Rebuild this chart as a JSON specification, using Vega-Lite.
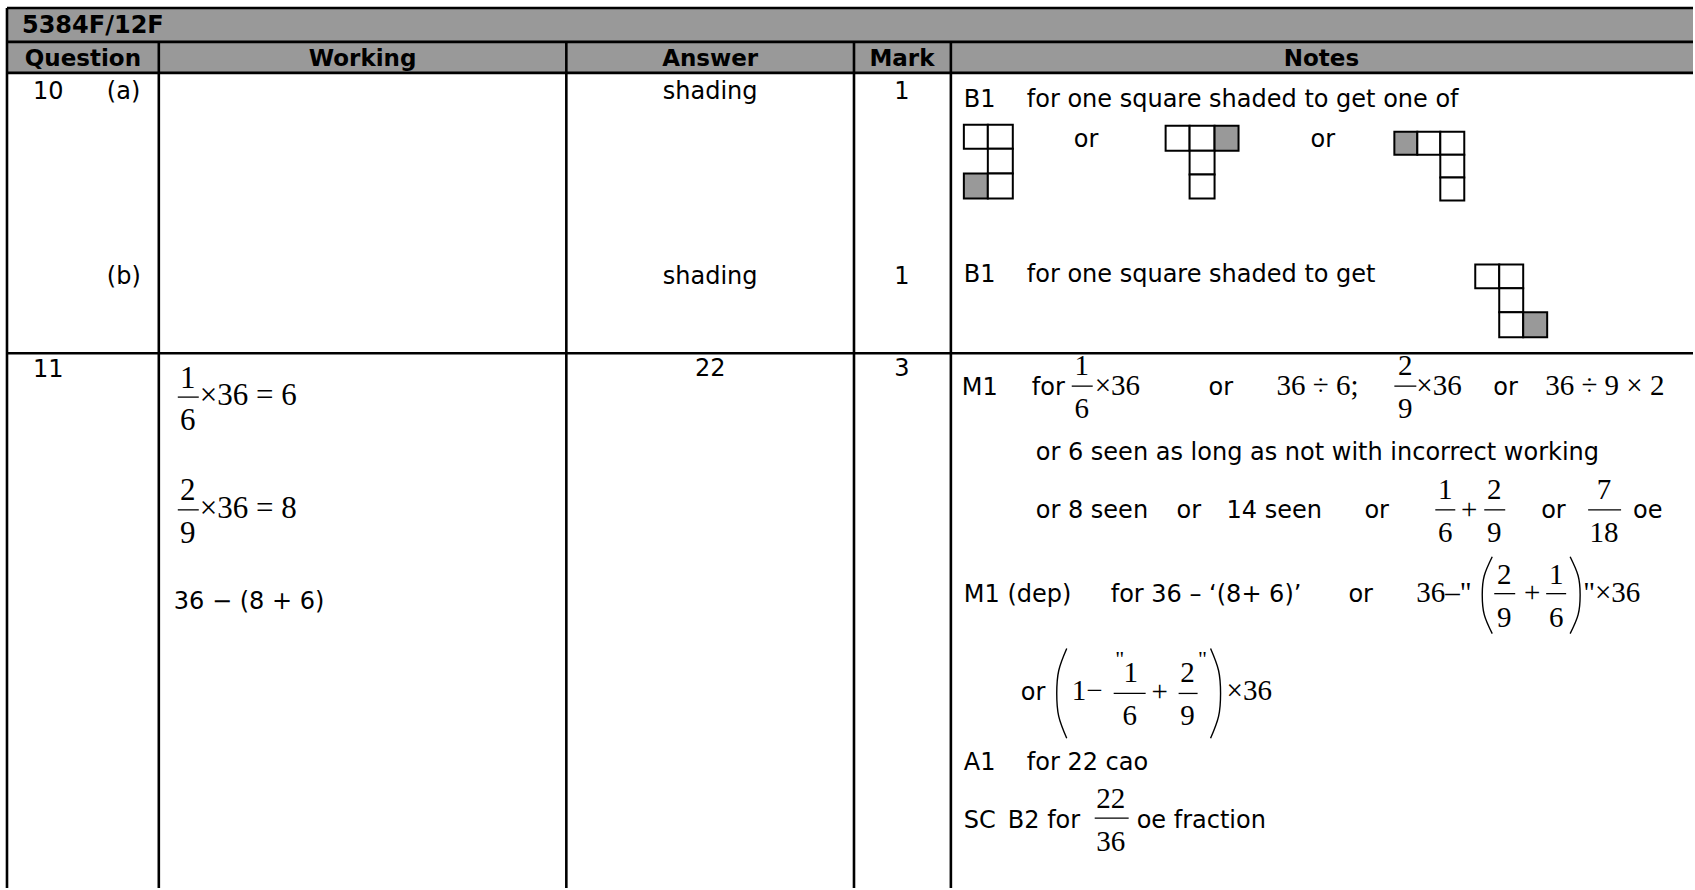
{
  "$schema": "https://vega.github.io/schema/vega-lite/v6.json",
  "width": 1695,
  "height": 890,
  "autosize": {"type": "fit", "contains": "padding"},
  "padding": 0,
  "background": "white",
  "config": {"view": {"stroke": null}},
  "datasets": {
    "fills": [{"x": 7, "x2": 1695, "y": 8, "y2": 73}],
    "grid": [
      {"x": 7, "x2": 1695, "y": 8, "y2": 8},
      {"x": 7, "x2": 1695, "y": 42, "y2": 42},
      {"x": 7, "x2": 1695, "y": 73, "y2": 73},
      {"x": 7, "x2": 1695, "y": 354, "y2": 354},
      {"x": 7, "x2": 7, "y": 8, "y2": 890},
      {"x": 159, "x2": 159, "y": 42, "y2": 890},
      {"x": 567, "x2": 567, "y": 42, "y2": 890},
      {"x": 855, "x2": 855, "y": 42, "y2": 890},
      {"x": 952, "x2": 952, "y": 42, "y2": 890}
    ],
    "squares": [
      {"x": 965, "x2": 989, "y": 125, "y2": 149, "s": false},
      {"x": 989, "x2": 1014, "y": 125, "y2": 149, "s": false},
      {"x": 989, "x2": 1014, "y": 149, "y2": 174, "s": false},
      {"x": 965, "x2": 989, "y": 174, "y2": 199, "s": true},
      {"x": 989, "x2": 1014, "y": 174, "y2": 199, "s": false},
      {"x": 1167, "x2": 1191, "y": 126, "y2": 151, "s": false},
      {"x": 1191, "x2": 1216, "y": 126, "y2": 151, "s": false},
      {"x": 1216, "x2": 1240, "y": 126, "y2": 151, "s": true},
      {"x": 1191, "x2": 1216, "y": 151, "y2": 175, "s": false},
      {"x": 1191, "x2": 1216, "y": 175, "y2": 199, "s": false},
      {"x": 1396, "x2": 1419, "y": 132, "y2": 155, "s": true},
      {"x": 1419, "x2": 1442, "y": 132, "y2": 155, "s": false},
      {"x": 1442, "x2": 1466, "y": 132, "y2": 155, "s": false},
      {"x": 1442, "x2": 1466, "y": 155, "y2": 178, "s": false},
      {"x": 1442, "x2": 1466, "y": 178, "y2": 201, "s": false},
      {"x": 1477, "x2": 1501, "y": 265, "y2": 289, "s": false},
      {"x": 1501, "x2": 1525, "y": 265, "y2": 289, "s": false},
      {"x": 1501, "x2": 1525, "y": 289, "y2": 313, "s": false},
      {"x": 1501, "x2": 1525, "y": 313, "y2": 338, "s": false},
      {"x": 1525, "x2": 1549, "y": 313, "y2": 338, "s": true}
    ],
    "bars": [
      {"x": 178, "x2": 199, "y": 398, "y2": 398},
      {"x": 178, "x2": 199, "y": 511, "y2": 511},
      {"x": 1073, "x2": 1094, "y": 387, "y2": 387},
      {"x": 1396, "x2": 1418, "y": 387, "y2": 387},
      {"x": 1437, "x2": 1457, "y": 511, "y2": 511},
      {"x": 1486, "x2": 1507, "y": 511, "y2": 511},
      {"x": 1590, "x2": 1623, "y": 511, "y2": 511},
      {"x": 1496, "x2": 1517, "y": 595, "y2": 595},
      {"x": 1548, "x2": 1568, "y": 595, "y2": 595},
      {"x": 1115, "x2": 1147, "y": 695, "y2": 695},
      {"x": 1180, "x2": 1199, "y": 695, "y2": 695},
      {"x": 1096, "x2": 1130, "y": 820, "y2": 820}
    ],
    "parens": [
      {"id": "a", "o": 1, "x": 1494, "y": 558},
      {"id": "a", "o": 2, "x": 1486, "y": 577},
      {"id": "a", "o": 3, "x": 1484, "y": 596},
      {"id": "a", "o": 4, "x": 1486, "y": 616},
      {"id": "a", "o": 5, "x": 1494, "y": 635},
      {"id": "b", "o": 1, "x": 1572, "y": 558},
      {"id": "b", "o": 2, "x": 1580, "y": 577},
      {"id": "b", "o": 3, "x": 1582, "y": 596},
      {"id": "b", "o": 4, "x": 1580, "y": 616},
      {"id": "b", "o": 5, "x": 1572, "y": 635},
      {"id": "c", "o": 1, "x": 1068, "y": 650},
      {"id": "c", "o": 2, "x": 1060, "y": 672},
      {"id": "c", "o": 3, "x": 1058, "y": 695},
      {"id": "c", "o": 4, "x": 1060, "y": 718},
      {"id": "c", "o": 5, "x": 1068, "y": 740},
      {"id": "d", "o": 1, "x": 1212, "y": 650},
      {"id": "d", "o": 2, "x": 1220, "y": 672},
      {"id": "d", "o": 3, "x": 1222, "y": 695},
      {"id": "d", "o": 4, "x": 1220, "y": 718},
      {"id": "d", "o": 5, "x": 1212, "y": 740}
    ],
    "texts": [
      {"t": "5384F/12F", "x": 22, "y": 33, "k": "title"},
      {"t": "Question", "x": 83, "y": 66, "k": "head"},
      {"t": "Working", "x": 363, "y": 66, "k": "head"},
      {"t": "Answer", "x": 711, "y": 66, "k": "head"},
      {"t": "Mark", "x": 903, "y": 66, "k": "head"},
      {"t": "Notes", "x": 1323, "y": 66, "k": "head"},
      {"t": "10", "x": 33, "y": 99, "k": "sans"},
      {"t": "(a)", "x": 107, "y": 99, "k": "sans"},
      {"t": "(b)", "x": 107, "y": 285, "k": "sans"},
      {"t": "11", "x": 33, "y": 378, "k": "sans"},
      {"t": "B1", "x": 965, "y": 107, "k": "sans"},
      {"t": "for one square shaded to get one of", "x": 1028, "y": 107, "k": "sans"},
      {"t": "or", "x": 1075, "y": 147, "k": "sans"},
      {"t": "or", "x": 1312, "y": 147, "k": "sans"},
      {"t": "B1", "x": 965, "y": 283, "k": "sans"},
      {"t": "for one square shaded to get", "x": 1028, "y": 283, "k": "sans"},
      {"t": "36 − (8 + 6)", "x": 174, "y": 610, "k": "sans"},
      {"t": "M1", "x": 963, "y": 396, "k": "sans"},
      {"t": "for", "x": 1033, "y": 396, "k": "sans"},
      {"t": "or", "x": 1210, "y": 396, "k": "sans"},
      {"t": "or", "x": 1495, "y": 396, "k": "sans"},
      {"t": "or 6 seen as long as not with incorrect working", "x": 1037, "y": 461, "k": "sans"},
      {"t": "or 8 seen", "x": 1037, "y": 519, "k": "sans"},
      {"t": "or", "x": 1178, "y": 519, "k": "sans"},
      {"t": "14 seen", "x": 1228, "y": 519, "k": "sans"},
      {"t": "or", "x": 1366, "y": 519, "k": "sans"},
      {"t": "or", "x": 1543, "y": 519, "k": "sans"},
      {"t": "oe", "x": 1635, "y": 519, "k": "sans"},
      {"t": "M1 (dep)", "x": 965, "y": 603, "k": "sans"},
      {"t": "for 36 – ‘(8+ 6)’", "x": 1112, "y": 603, "k": "sans"},
      {"t": "or", "x": 1350, "y": 603, "k": "sans"},
      {"t": "or", "x": 1022, "y": 702, "k": "sans"},
      {"t": "A1", "x": 965, "y": 772, "k": "sans"},
      {"t": "for 22 cao", "x": 1028, "y": 772, "k": "sans"},
      {"t": "SC", "x": 965, "y": 830, "k": "sans"},
      {"t": "B2 for", "x": 1009, "y": 830, "k": "sans"},
      {"t": "oe fraction", "x": 1138, "y": 830, "k": "sans"},
      {"t": "shading", "x": 711, "y": 99, "k": "sansc"},
      {"t": "shading", "x": 711, "y": 285, "k": "sansc"},
      {"t": "1", "x": 903, "y": 99, "k": "sansc"},
      {"t": "1", "x": 903, "y": 285, "k": "sansc"},
      {"t": "22", "x": 711, "y": 377, "k": "sansc"},
      {"t": "3", "x": 903, "y": 377, "k": "sansc"},
      {"t": "×36 = 6", "x": 200, "y": 406, "k": "serifw"},
      {"t": "×36 = 8", "x": 200, "y": 519, "k": "serifw"},
      {"t": "×36", "x": 1096, "y": 396, "k": "serif"},
      {"t": "36 ÷ 6;", "x": 1278, "y": 396, "k": "serif"},
      {"t": "×36", "x": 1418, "y": 396, "k": "serif"},
      {"t": "36 ÷ 9 × 2", "x": 1547, "y": 396, "k": "serif"},
      {"t": "36–\"", "x": 1418, "y": 603, "k": "serif"},
      {"t": "\"×36", "x": 1585, "y": 603, "k": "serif"},
      {"t": "1−", "x": 1073, "y": 702, "k": "serif"},
      {"t": "×36", "x": 1228, "y": 702, "k": "serif"},
      {"t": "1", "x": 188, "y": 389, "k": "serifcw"},
      {"t": "6", "x": 188, "y": 431, "k": "serifcw"},
      {"t": "2", "x": 188, "y": 501, "k": "serifcw"},
      {"t": "9", "x": 188, "y": 544, "k": "serifcw"},
      {"t": "1", "x": 1083, "y": 376, "k": "serifc"},
      {"t": "6", "x": 1083, "y": 419, "k": "serifc"},
      {"t": "2", "x": 1407, "y": 376, "k": "serifc"},
      {"t": "9", "x": 1407, "y": 419, "k": "serifc"},
      {"t": "1", "x": 1447, "y": 500, "k": "serifc"},
      {"t": "6", "x": 1447, "y": 543, "k": "serifc"},
      {"t": "+", "x": 1471, "y": 520, "k": "serifc"},
      {"t": "2", "x": 1496, "y": 500, "k": "serifc"},
      {"t": "9", "x": 1496, "y": 543, "k": "serifc"},
      {"t": "7", "x": 1606, "y": 500, "k": "serifc"},
      {"t": "18", "x": 1606, "y": 543, "k": "serifc"},
      {"t": "2", "x": 1506, "y": 585, "k": "serifc"},
      {"t": "9", "x": 1506, "y": 628, "k": "serifc"},
      {"t": "+", "x": 1534, "y": 603, "k": "serifc"},
      {"t": "1", "x": 1558, "y": 585, "k": "serifc"},
      {"t": "6", "x": 1558, "y": 628, "k": "serifc"},
      {"t": "1", "x": 1132, "y": 684, "k": "serifc"},
      {"t": "6", "x": 1131, "y": 727, "k": "serifc"},
      {"t": "+", "x": 1161, "y": 703, "k": "serifc"},
      {"t": "2", "x": 1189, "y": 684, "k": "serifc"},
      {"t": "9", "x": 1189, "y": 727, "k": "serifc"},
      {"t": "22", "x": 1112, "y": 810, "k": "serifc"},
      {"t": "36", "x": 1112, "y": 853, "k": "serifc"},
      {"t": "\"", "x": 1121, "y": 668, "k": "quote"},
      {"t": "\"", "x": 1204, "y": 668, "k": "quote"}
    ]
  },
  "encoding": {
    "x": {"field": "x", "type": "quantitative", "scale": {"domain": [0, 1695], "nice": false, "zero": false}, "axis": null},
    "y": {"field": "y", "type": "quantitative", "scale": {"domain": [0, 890], "nice": false, "zero": false, "reverse": true}, "axis": null}
  },
  "layer": [
    {
      "data": {"name": "fills"},
      "mark": {"type": "rect", "color": "#999999"},
      "encoding": {"x2": {"field": "x2"}, "y2": {"field": "y2"}}
    },
    {
      "data": {"name": "squares"},
      "mark": {"type": "rect", "stroke": "black", "strokeWidth": 2},
      "encoding": {
        "x2": {"field": "x2"},
        "y2": {"field": "y2"},
        "fill": {"condition": {"test": "datum.s", "value": "#999999"}, "value": "white"}
      }
    },
    {
      "data": {"name": "grid"},
      "mark": {"type": "rule", "color": "black", "strokeWidth": 2.6},
      "encoding": {"x2": {"field": "x2"}, "y2": {"field": "y2"}}
    },
    {
      "data": {"name": "bars"},
      "mark": {"type": "rule", "color": "black", "strokeWidth": 1.3},
      "encoding": {"x2": {"field": "x2"}, "y2": {"field": "y2"}}
    },
    {
      "data": {"name": "parens"},
      "mark": {"type": "line", "color": "black", "strokeWidth": 1.4, "interpolate": "natural"},
      "encoding": {"detail": {"field": "id"}, "order": {"field": "o", "type": "quantitative"}}
    },
    {
      "data": {"name": "texts"},
      "transform": [{"filter": "datum.k === 'title'"}],
      "mark": {"type": "text", "font": "DejaVu Sans", "fontWeight": "bold", "fontSize": 24, "align": "left", "baseline": "alphabetic", "color": "black"},
      "encoding": {"text": {"field": "t"}}
    },
    {
      "data": {"name": "texts"},
      "transform": [{"filter": "datum.k === 'head'"}],
      "mark": {"type": "text", "font": "DejaVu Sans", "fontWeight": 600, "fontSize": 23, "align": "center", "baseline": "alphabetic", "color": "black"},
      "encoding": {"text": {"field": "t"}}
    },
    {
      "data": {"name": "texts"},
      "transform": [{"filter": "datum.k === 'sans'"}],
      "mark": {"type": "text", "font": "DejaVu Sans", "fontSize": 24, "align": "left", "baseline": "alphabetic", "color": "black"},
      "encoding": {"text": {"field": "t"}}
    },
    {
      "data": {"name": "texts"},
      "transform": [{"filter": "datum.k === 'sansc'"}],
      "mark": {"type": "text", "font": "DejaVu Sans", "fontSize": 24, "align": "center", "baseline": "alphabetic", "color": "black"},
      "encoding": {"text": {"field": "t"}}
    },
    {
      "data": {"name": "texts"},
      "transform": [{"filter": "datum.k === 'serif'"}],
      "mark": {"type": "text", "font": "Liberation Serif", "fontSize": 29, "align": "left", "baseline": "alphabetic", "color": "black"},
      "encoding": {"text": {"field": "t"}}
    },
    {
      "data": {"name": "texts"},
      "transform": [{"filter": "datum.k === 'serifc'"}],
      "mark": {"type": "text", "font": "Liberation Serif", "fontSize": 29, "align": "center", "baseline": "alphabetic", "color": "black"},
      "encoding": {"text": {"field": "t"}}
    },
    {
      "data": {"name": "texts"},
      "transform": [{"filter": "datum.k === 'serifw'"}],
      "mark": {"type": "text", "font": "Liberation Serif", "fontSize": 31, "align": "left", "baseline": "alphabetic", "color": "black"},
      "encoding": {"text": {"field": "t"}}
    },
    {
      "data": {"name": "texts"},
      "transform": [{"filter": "datum.k === 'serifcw'"}],
      "mark": {"type": "text", "font": "Liberation Serif", "fontSize": 31, "align": "center", "baseline": "alphabetic", "color": "black"},
      "encoding": {"text": {"field": "t"}}
    },
    {
      "data": {"name": "texts"},
      "transform": [{"filter": "datum.k === 'quote'"}],
      "mark": {"type": "text", "font": "Liberation Serif", "fontSize": 22, "align": "center", "baseline": "alphabetic", "color": "black"},
      "encoding": {"text": {"field": "t"}}
    }
  ]
}
